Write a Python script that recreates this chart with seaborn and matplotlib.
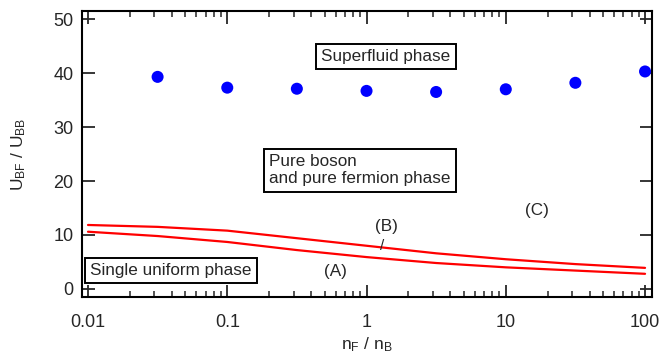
import numpy as np
import pandas as pd
import matplotlib
matplotlib.use("Agg")
import matplotlib.pyplot as plt
import seaborn as sns

# superfluid boundary points
n_ratio_pts = [0.0316, 0.1, 0.316, 1, 3.16, 10, 31.6, 100]
u_sf = [39.3, 37.3, 37.1, 36.7, 36.5, 37.0, 38.2, 40.3]

# boundary curves (B) upper and (A) lower
n_ratio_line = [0.01, 0.0316, 0.1, 0.316, 1, 3.16, 10, 31.6, 100]
u_upper = [11.85, 11.5, 10.8, 9.4, 8.0, 6.6, 5.5, 4.6, 3.9]
u_lower = [10.6, 9.8, 8.7, 7.2, 5.9, 4.8, 4.0, 3.4, 2.8]

sns.set_style("ticks")
plt.rcParams["font.family"] = ["Liberation Sans", "DejaVu Sans"]
plt.rcParams["mathtext.fontset"] = "custom"
plt.rcParams["mathtext.rm"] = "Liberation Sans"
plt.rcParams["mathtext.it"] = "Liberation Sans"

fig = plt.figure(figsize=(6.69, 3.56), dpi=100)
ax = fig.add_axes([0.1226, 0.1657, 0.852, 0.8033])

pts = pd.DataFrame({"n": n_ratio_pts, "u": u_sf})
sns.scatterplot(data=pts, x="n", y="u", ax=ax, color="#0000ff", s=75,
                edgecolor="none", zorder=3)

lines = pd.DataFrame({"n": n_ratio_line + n_ratio_line,
                      "u": u_upper + u_lower,
                      "curve": ["B"] * len(n_ratio_line) + ["A"] * len(n_ratio_line)})
sns.lineplot(data=lines, x="n", y="u", units="curve", estimator=None,
             color="#ff0000", lw=1.6, ax=ax, legend=False)

ax.set_xscale("log")
ax.set_xlim(10 ** -2.043, 10 ** 2.05)
ax.set_ylim(-1.5, 51.5)
ax.set_yticks([0, 10, 20, 30, 40, 50])
ax.set_xticks([0.01, 0.1, 1, 10, 100])
ax.set_xticklabels(["0.01", "0.1", "1", "10", "100"])

for s in ax.spines.values():
    s.set_linewidth(1.5)
    s.set_color("black")
ax.tick_params(which="major", direction="in", length=9, width=1.3,
               top=True, right=True, labelsize=13)
ax.tick_params(axis="x", which="major", pad=12)
ax.tick_params(axis="y", which="major", pad=6)
ax.tick_params(which="minor", direction="in", length=4.5, width=1.1,
               top=True, right=True)
ax.tick_params(axis="y", which="minor", left=False, right=False)

ax.set_xlabel(r"n$_F$ / n$_B$", fontsize=12.5)
ax.set_ylabel(r"U$_{BF}$ / U$_{BB}$", fontsize=12.5)
ax.xaxis.set_label_coords(0.5, -0.135)
ax.yaxis.set_label_coords(-0.094, 0.5)

box = dict(boxstyle="square,pad=0.3", fc="white", ec="black", lw=1.4)
fs = 12.3
ax.text(1.38, 43.1, "Superfluid phase", fontsize=fs, ha="center", va="center", bbox=box)
ax.text(0.2, 22.0, "Pure boson\nand pure fermion phase", fontsize=fs,
        ha="left", va="center", bbox=box, linespacing=1.2)
ax.text(0.0395, 3.4, "Single uniform phase", fontsize=fs, ha="center", va="center",
        bbox=box, zorder=4)
ax.text(0.6, 3.3, "(A)", fontsize=fs, ha="center", va="center")
ax.text(1.38, 11.6, "(B)", fontsize=fs, ha="center", va="center")
ax.text(16.7, 14.6, "(C)", fontsize=fs, ha="center", va="center")
ax.text(1.3, 8.0, "/", fontsize=11, ha="center", va="center")

fig.savefig("out.png", dpi=100)
